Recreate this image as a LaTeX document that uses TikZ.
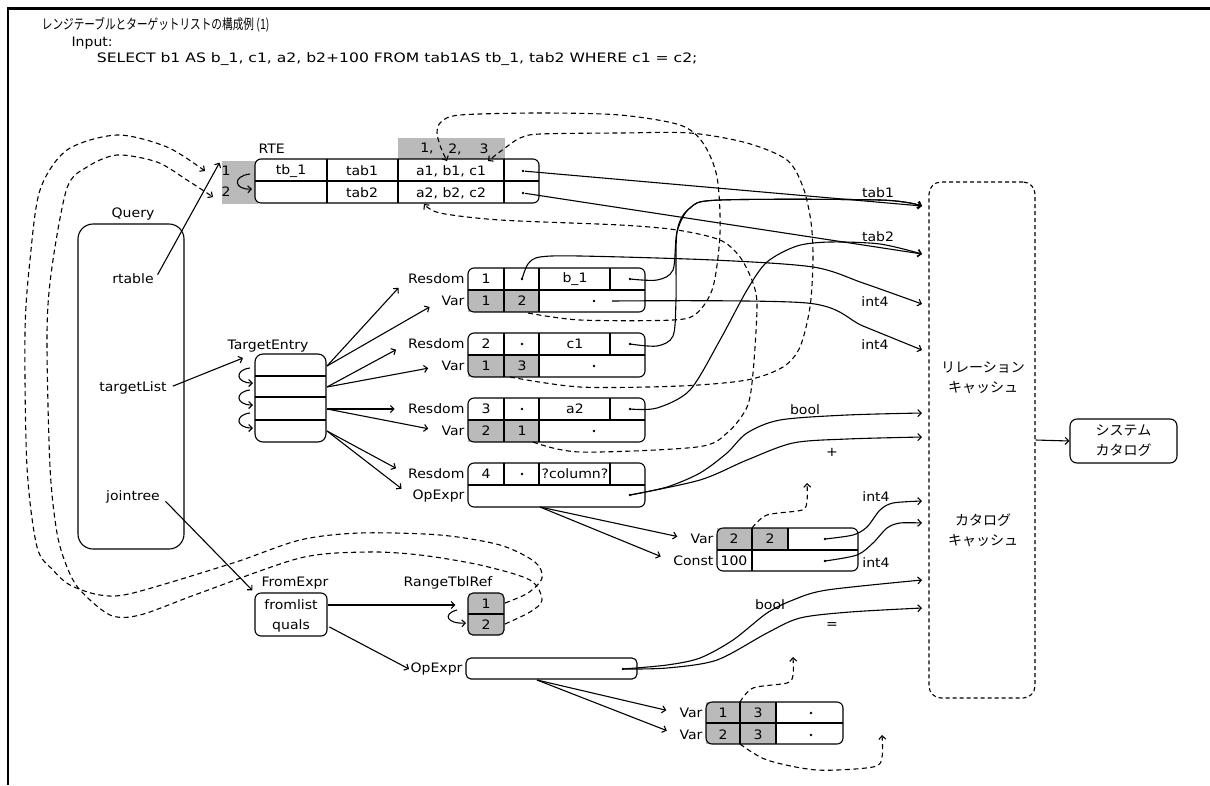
\documentclass[tikz,border=0pt]{standalone}
\usepackage{fontspec}
\setmainfont{DejaVu Sans}[FakeStretch=1.08]
\newfontfamily\sqlfont{DejaVu Sans}[FakeStretch=1.2]
\newfontfamily\jpfont{Noto Sans CJK JP}
\newfontfamily\jptitle{Noto Sans CJK JP}[FakeStretch=0.76]
\usetikzlibrary{arrows.meta}
\begin{document}
\begin{tikzpicture}[x=1pt,y=-1pt,line width=1.1pt,
    >={Straight Barb[length=3.5pt,width=7pt]},
    lbl/.style={font=\fontsize{13}{15}\selectfont,inner sep=1pt},
    jp/.style={font=\jpfont\fontsize{14}{20}\selectfont,align=center},
    dot/.style={circle,fill,inner sep=0pt,minimum size=2.8pt},
    shade/.style={fill=black!27},
    tolbl/.style={->,shorten >=12pt},
    link/.style={->,dash pattern=on 5pt off 3.5pt}]

  \useasboundingbox (0,0) rectangle (1210,785);
  \draw[line width=2.5pt] (8,785) -- (8,8.5) -- (1210,8.5);

  % titolo e query
  \node[anchor=west,font=\jptitle\fontsize{14}{16}\selectfont] (title) at (38,25) {レンジテーブルとターゲットリストの構成例 (1)};
  \node[lbl,anchor=west] (input) at (70,43) {Input:};
  \node[anchor=west,font=\sqlfont\fontsize{13}{15}\selectfont] (sql) at (93,59) {SELECT b1 AS b\_1, c1, a2, b2+100 FROM tab1AS tb\_1, tab2 WHERE c1 = c2;};

  % Query
  \draw[rounded corners=15] (78,224) rectangle (184,549);
  \node[lbl] (query) at (133,214) {Query};
  \node[lbl] (rtable) at (133,279) {rtable};
  \node[lbl] (tlist) at (133,388) {targetList};
  \node[lbl] (jtree) at (133,497) {jointree};

  % RTE
  \node[shade,minimum width=36,minimum height=43,inner sep=0pt,anchor=north west] (rteidx) at (221,160) {};
  \fill[shade] (398,138) rectangle (505,159);
  \draw[fill=white,rounded corners=6] (255,159) rectangle (539,203);
  \draw (255,181) -- (539,181);
  \foreach \x in {327,398,504} \draw (\x,159) -- (\x,203);
  \node[lbl,anchor=west] (rte) at (257,149) {RTE};
  \node[lbl] (h1) at (427,149) {1,};
  \node[lbl] (h2) at (455,149) {2,};
  \node[lbl] (h3) at (484,149) {3};
  \node[lbl] (i1) at (226,171) {1};
  \node[lbl] (i2) at (226,192) {2};
  \node[lbl] (al1) at (291,171) {tb\_1};
  \node[lbl] (tb1) at (362,171) {tab1};
  \node[lbl] (at1) at (451,171) {a1, b1, c1};
  \node[lbl] (tb2) at (362,193) {tab2};
  \node[lbl] (at2) at (451,193) {a2, b2, c2};
  \node[dot] (p1) at (523,171) {};
  \node[dot] (p2) at (523,193) {};
  \draw[->] (250,174) .. controls (232,176) and (234,190) .. (252,189);
  \coordinate (rte1) at (205,171);
  \coordinate (rte2) at (213,197);
  \coordinate (b1top) at (447,161);
  \coordinate (c1top) at (488,161);
  \coordinate (a2bot) at (424,204);

  % TargetEntry
  \node[lbl] (telbl) at (268,346) {TargetEntry};
  \draw[rounded corners=8] (255,354) rectangle (326,442);
  \foreach \y in {376,397,420} \draw (255,\y) -- (326,\y);
  \foreach \y in {368,390,413} \draw[->] (250,\y) .. controls (234,\y+2) and (236,\y+15) .. (253,\y+15);
  \coordinate (te1) at (327,366);
  \coordinate (te2) at (327,387);
  \coordinate (te3) at (327,409);
  \coordinate (te4) at (327,431);

  % Resdom / Var
  \foreach \n/\t/\ra/\na/\va/\vb in {1/268/1/b\_1/1/2, 2/333/2/c1/1/3, 3/398/3/a2/2/1} {
    \fill[shade] (468,\t+22) rectangle (539,\t+44);
    \draw[rounded corners=6] (468,\t) rectangle (645,\t+44);
    \draw (468,\t+22) -- (645,\t+22);
    \draw (504,\t) -- (504,\t+44) (539,\t) -- (539,\t+44) (610,\t) -- (610,\t+22);
    \node[lbl,anchor=east] (rs\n) at (466,\t+11) {Resdom};
    \node[lbl,anchor=east] (vr\n) at (466,\t+33) {Var};
    \node[lbl] at (486,\t+11) {\ra};
    \node[dot] (rt\n) at (522,\t+11) {};
    \node[lbl] at (575,\t+11) {\na};
    \node[dot] (ro\n) at (630,\t+11) {};
    \node[lbl] at (486,\t+33) {\va};
    \node[lbl] at (522,\t+33) {\vb};
    \node[dot] (vd\n) at (594,\t+33) {};
    \draw[tolbl] (te\n) -- (rs\n.west);
    \draw[tolbl] (te\n) -- (vr\n.west);
  }
  \coordinate (vb1) at (528,313);
  \coordinate (vb2) at (510,377);
  \coordinate (vb3) at (533,442);

  % Resdom / OpExpr
  \draw[rounded corners=6] (468,463) rectangle (645,507);
  \draw (468,485) -- (645,485);
  \draw (504,463) -- (504,485) (539,463) -- (539,485) (610,463) -- (610,485);
  \node[lbl,anchor=east] (rs4) at (466,474) {Resdom};
  \node[lbl,anchor=east] (op1) at (466,496) {OpExpr};
  \node[lbl] at (486,474) {4};
  \node[dot] (rt4) at (522,474) {};
  \node[lbl] at (575,474) {?column?};
  \node[dot] (od1) at (630,495) {};
  \draw[tolbl] (te4) -- (rs4.west);
  \draw[tolbl] (te4) -- (op1.west);
  \coordinate (opx1) at (540,507);

  % Var / Const
  \fill[shade] (717,528) rectangle (788,550);
  \draw[rounded corners=6] (717,528) rectangle (858,571);
  \draw (717,550) -- (858,550) (752,528) -- (752,571) (788,528) -- (788,550);
  \node[lbl,anchor=east] (vr4) at (715,539) {Var};
  \node[lbl,anchor=east] (cst) at (715,561) {Const};
  \node[lbl] at (734,539) {2};
  \node[lbl] at (770,539) {2};
  \node[lbl] at (734,561) {100};
  \node[dot] (vd4) at (825,539) {};
  \node[dot] (cd) at (825,561) {};
  \draw[tolbl] (opx1) -- (vr4.west);
  \draw[tolbl] (opx1) -- (cst.west);
  \coordinate (vt4) at (752,528);

  % FromExpr / RangeTblRef
  \node[lbl] (fe) at (295,583) {FromExpr};
  \node[draw,rounded corners=6,minimum width=72,minimum height=43,inner sep=0pt] (fbox) at (291,614.5) {};
  \node[lbl] (fl) at (291,605) {fromlist};
  \node[lbl] (ql) at (291,626) {quals};
  \node[lbl] (rtrl) at (448,583) {RangeTblRef};
  \node[draw,shade,rounded corners=5,minimum width=36,minimum height=42,inner sep=0pt] (rtrbox) at (486,614) {};
  \draw (468,614) -- (504,614);
  \node[lbl] (r1) at (486,604) {1};
  \node[lbl] (r2) at (486,625) {2};
  \draw[->] (457,610) .. controls (442,614) and (447,624) .. (466,623);
  \coordinate (rtr1) at (505,603);
  \coordinate (rtr2) at (505,624);

  % OpExpr (quals)
  \draw[rounded corners=5] (466,658) rectangle (637,679);
  \node[lbl,anchor=east] (op2) at (464,669) {OpExpr};
  \node[dot] (od2) at (623,669) {};
  \coordinate (opx2) at (537,680);
  \fill[shade] (706,702) rectangle (776,744);
  \draw[rounded corners=6] (706,702) rectangle (843,744);
  \draw (706,723) -- (843,723) (740,702) -- (740,744) (776,702) -- (776,744);
  \node[lbl,anchor=east] (vr5) at (704,713) {Var};
  \node[lbl,anchor=east] (vr6) at (704,735) {Var};
  \node[lbl] at (723,713) {1};
  \node[lbl] at (758,713) {3};
  \node[lbl] at (723,735) {2};
  \node[lbl] at (758,735) {3};
  \node[dot] (vd5) at (811,713) {};
  \node[dot] (vd6) at (811,735) {};
  \draw[tolbl] (opx2) -- (vr5.west);
  \draw[tolbl] (opx2) -- (vr6.west);
  \coordinate (vt5) at (740,702);
  \coordinate (vb6) at (740,744);

  % cache e catalogo
  \node[draw,dash pattern=on 4pt off 3pt,rounded corners=12,minimum width=106,minimum height=516,inner sep=0pt] (cache) at (982,440) {};
  \node[jp] (relc) at (983,378) {リレーション\\キャッシュ};
  \node[jp] (catc) at (983,530) {カタログ\\キャッシュ};
  \node[jp,draw,rounded corners=7,minimum width=107,minimum height=44] (sys) at (1123.5,441) {システム\\カタログ};
  \draw[->] (cache.east) -- (sys.west);
  \foreach \k/\y in {1/206,2/254,3/304,4/350,5/413,6/437,7/501,8/523,9/580,10/608}
    \coordinate (k\k) at (922,\y);

  % frecce Query
  \draw[->,shorten <=5pt,shorten >=3pt] (rtable.east) -- (rteidx.north west);
  \draw[->,shorten <=5pt] (tlist.east) -- (243,358);
  \draw[->,shorten <=6pt,shorten >=3pt] (jtree.east) -- (fbox.north west);
  \draw[->,shorten >=12pt] (fbox.east |- fl) -- (rtrbox.west |- fl);
  \draw[->,shorten <=2pt] (fbox.east |- ql) -- (op2.west);

  % puntatori verso la cache
  \draw[->] (p1) -- (k1);
  \draw[->] (p2) -- (k2);
  \draw[->] plot[smooth] coordinates {(ro1.center) (657,280) (673,270) (677,232) (690,208) (720,200) (880,200) (k1)};
  \draw[->] plot[smooth] coordinates {(ro2.center) (657,346) (673,336) (676,300) (677,232) (690,208) (720,200) (880,200) (k1)};
  \draw[->] plot[smooth] coordinates {(ro3.center) (657,408) (690,390) (720,340) (747,290) (767,262) (797,246) (830,242) (880,244) (k2)};
  \draw[->] plot[smooth] coordinates {(rt1.center) (528,264) (540,257) (580,256) (713,260) (813,267) (863,283) (k3)};
  \draw[->] plot[smooth] coordinates {(612,301) (807,303) (863,326) (k4)};
  \draw[->] plot[smooth] coordinates {(od1.center) (667,487) (700,473) (727,453) (747,433) (780,420) (847,415) (k5)};
  \draw[->] plot[smooth] coordinates {(od1.center) (700,480) (747,460) (793,443) (847,439) (k6)};
  \draw[->] plot[smooth] coordinates {(vd4.center) (853,535) (867,527) (880,510) (893,503) (k7)};
  \draw[->] plot[smooth] coordinates {(cd.center) (857,555) (873,543) (887,528) (900,523) (k8)};
  \draw[->] plot[smooth] coordinates {(od2.center) (667,665) (700,658) (733,640) (767,613) (793,600) (827,590) (k9)};
  \draw[->] plot[smooth] coordinates {(od2.center) (667,668) (717,660) (767,633) (800,618) (850,612) (k10)};
  \node[lbl] (lt1) at (878,193) {tab1};
  \node[lbl] (lt2) at (878,237) {tab2};
  \node[lbl] (li1) at (875,302) {int4};
  \node[lbl] (li2) at (875,345) {int4};
  \node[lbl] (lb1) at (805,410) {bool};
  \node[lbl] (lp) at (832,452) {+};
  \node[lbl] (li3) at (876,497) {int4};
  \node[lbl] (li4) at (876,563) {int4};
  \node[lbl] (lb2) at (770,605) {bool};
  \node[lbl] (leq) at (832,626) {=};

  % rimandi tratteggiati
  \draw[link] plot[smooth] coordinates {(vb1) (580,320) (673,320) (697,313) (713,287) (720,233) (717,177) (703,143) (680,125) (620,115) (540,113) (460,115) (441,122) (437,133) (441,148) (b1top)};
  \draw[link] plot[smooth] coordinates {(vb2) (580,387) (680,386) (747,380) (783,367) (800,347) (810,307) (813,260) (811,222) (803,187) (787,160) (747,143) (690,133) (620,133) (540,134) (520,138) (505,148) (c1top)};
  \draw[link] plot[smooth] coordinates {(vb3) (580,452) (697,447) (727,433) (747,407) (753,373) (757,307) (753,283) (740,257) (720,240) (677,230) (620,225) (500,220) (440,213) (a2bot)};
  \draw[link] plot[smooth] coordinates {(vt4) (767,515) (802,510) (807,500) (807,483)};
  \draw[link] plot[smooth] coordinates {(vt5) (753,688) (787,683) (793,675) (793,657)};
  \draw[link] plot[smooth] coordinates {(vb6) (767,760) (817,770) (873,767) (882,757) (882,735)};
  \draw[link] plot[smooth] coordinates {(rtr1) (528,593) (542,578) (535,562) (500,545) (440,535) (360,533) (300,540) (233,563) (133,593) (100,595) (70,585) (53,570) (37,547) (27,467) (25,333) (30,260) (40,190) (67,150) (117,135) (167,147) (rte1)};
  \draw[link] plot[smooth] coordinates {(rtr2) (530,612) (542,600) (530,580) (480,565) (420,555) (367,552) (300,558) (200,593) (140,615) (110,615) (80,590) (67,567) (57,533) (50,467) (47,333) (52,267) (67,188) (87,167) (117,155) (157,162) (187,180) (rte2)};
\end{tikzpicture}
\end{document}
